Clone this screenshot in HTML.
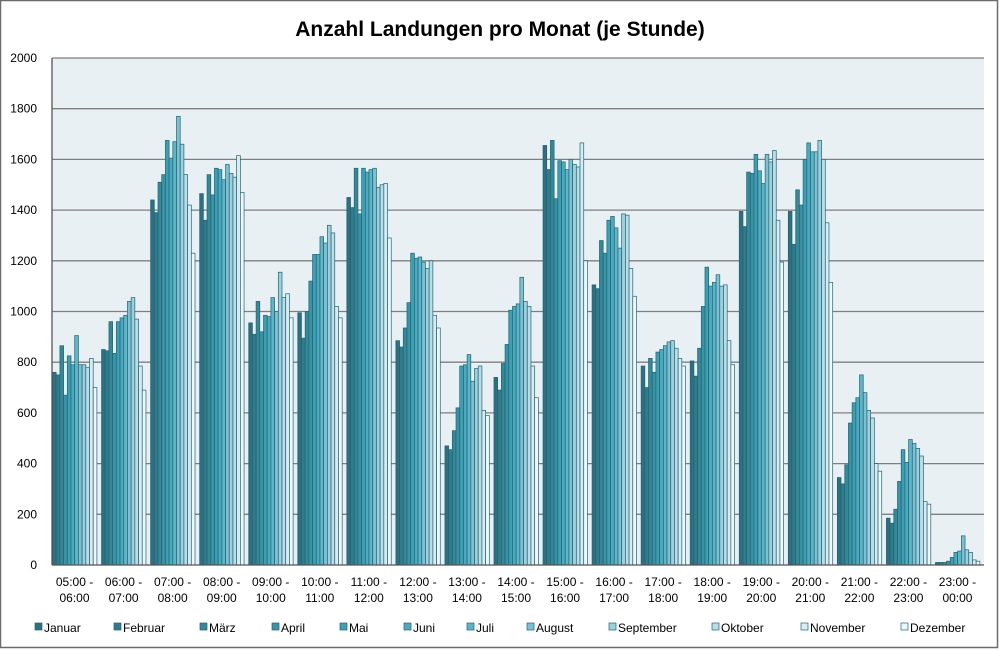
<!DOCTYPE html>
<html><head><meta charset="utf-8"><style>
html,body{margin:0;padding:0;background:#fff}
svg{display:block}
text{font-family:"Liberation Sans",sans-serif}
</style></head><body>
<svg id="s" width="1000" height="650" xmlns="http://www.w3.org/2000/svg">
<rect x="0.5" y="0.5" width="997" height="647" fill="#fff" stroke="#6b6b6b" stroke-width="1.5"/>
<text x="500" y="36" text-anchor="middle" font-size="21" font-weight="bold" fill="#000">Anzahl Landungen pro Monat (je Stunde)</text>
<g id="g"></g>
</svg>
<script>
var g=document.getElementById('g'),ns='http://www.w3.org/2000/svg',h='';
var X0=52,X1=984,Y0=565,sc=507/2000;
h+='<rect x="'+X0+'" y="58" width="'+(X1-X0)+'" height="507" fill="#e9f0f4"/>';
for(var v=0;v<=2000;v+=200){var y=Y0-v*sc;
 if(v>0)h+='<line x1="'+X0+'" x2="'+X1+'" y1="'+y+'" y2="'+y+'" stroke="#7f7f7f" stroke-width="1.3"/>';
 h+='<text x="37" y="'+(y+4)+'" text-anchor="end" font-size="12">'+v+'</text>';}
var D=[[760,750,865,670,825,790,905,790,790,780,815,700],
[850,845,960,835,960,975,985,1040,1055,970,785,690],
[1440,1390,1510,1540,1675,1605,1670,1770,1660,1540,1420,1230],
[1465,1360,1540,1460,1565,1560,1520,1580,1545,1530,1615,1470],
[955,910,1040,920,985,980,1055,1000,1155,1055,1070,975],
[995,895,1000,1120,1225,1225,1295,1270,1340,1310,1020,975],
[1450,1410,1565,1385,1565,1550,1560,1565,1490,1500,1505,1290],
[885,860,935,1035,1230,1210,1215,1195,1170,1200,985,935],
[470,455,530,620,785,790,830,725,775,785,610,590],
[740,690,795,870,1005,1020,1030,1135,1040,1020,785,660],
[1655,1560,1675,1445,1595,1590,1560,1600,1580,1570,1665,1200],
[1105,1090,1280,1230,1360,1375,1330,1250,1385,1380,1170,1060],
[785,700,815,760,840,850,865,880,885,855,815,785],
[805,745,855,1020,1175,1100,1115,1145,1100,1105,885,790],
[1395,1335,1550,1545,1620,1555,1505,1620,1590,1635,1360,1195],
[1395,1265,1480,1420,1600,1665,1630,1630,1675,1600,1350,1115],
[345,320,395,560,640,660,750,680,610,580,400,370],
[185,165,220,330,455,405,495,480,460,430,250,240],
[10,10,10,15,30,50,55,115,60,50,20,15]];
var C=['#2e6f80','#327b8c','#358896','#3a93a4','#3f9fb2','#4aabc0','#5fb5c8','#7cc0d1','#9dcfdc','#bcdde6','#d8ebf1','#eef7fa'];
var gw=(X1-X0)/19,bw=3.7;
for(var i=0;i<19;i++){var gx=X0+i*gw+0.5;
 for(var j=0;j<12;j++){var hh=D[i][j]*sc;
  h+='<rect x="'+(gx+j*bw)+'" y="'+(Y0-hh)+'" width="'+bw+'" height="'+hh+'" fill="'+C[j]+'" stroke="#1f6677" stroke-width="0.7"/>';}
 var a=(5+i)%24,b=(6+i)%24,p=function(n){return (n<10?'0':'')+n+':00'};
 var cx=X0+i*gw+gw/2-2;
 h+='<text x="'+cx+'" y="586" text-anchor="middle" font-size="12">'+p(a)+' -</text>';
 h+='<text x="'+cx+'" y="602" text-anchor="middle" font-size="12">'+p(b)+'</text>';}
h+='<line x1="'+X0+'" x2="'+X0+'" y1="58" y2="'+Y0+'" stroke="#555" stroke-width="1.3"/>';
h+='<line x1="'+X0+'" x2="'+X1+'" y1="'+Y0+'" y2="'+Y0+'" stroke="#555" stroke-width="1.3"/>';
var L=['Januar','Februar','März','April','Mai','Juni','Juli','August','September','Oktober','November','Dezember'];
var LX=[35,114,200,272,340,404,467,527,609,712,801,901];
for(var k=0;k<12;k++){h+='<rect x="'+LX[k]+'" y="623" width="7" height="7" fill="'+C[k]+'" stroke="#1f6677" stroke-width="0.7"/>';
 h+='<text x="'+(LX[k]+9)+'" y="632" font-size="12">'+L[k]+'</text>';}
g.innerHTML=h;
</script>
</body></html>
